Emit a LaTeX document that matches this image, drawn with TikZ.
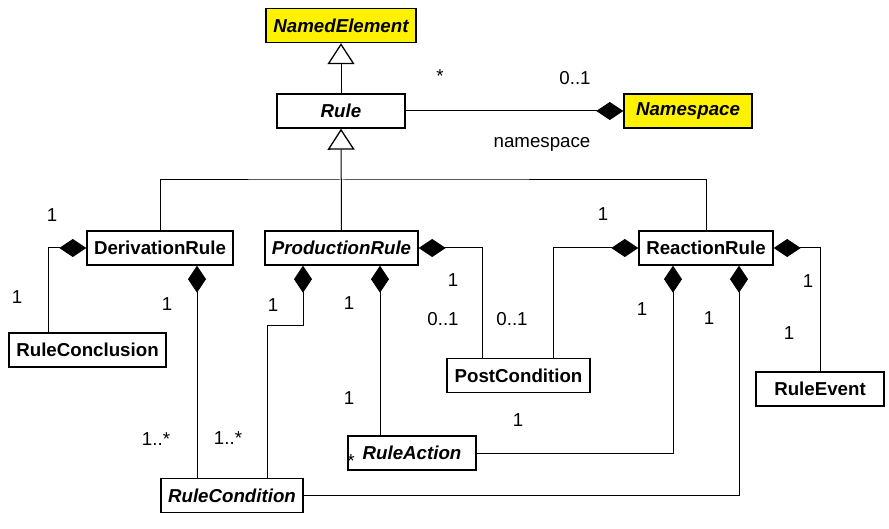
\documentclass[tikz,border=0pt]{standalone}
\usepackage{fontspec}
\setmainfont{Liberation Sans}
\usetikzlibrary{arrows.meta}

\tikzset{
  cls/.style={draw=black, line width=1.4pt, fill=white, inner sep=0pt,
              minimum height=34pt, font=\fontsize{18.7}{22}\selectfont\bfseries},
  abs/.style={cls, font=\fontsize{18.7}{22}\selectfont\bfseries\itshape},
  hilite/.style={fill=yellow},
  lbl/.style={inner sep=0pt, font=\fontsize{18.7}{22}\selectfont},
  link/.style={draw=black, line width=1pt},
  comp/.style={link, {Diamond[length=27pt,width=18pt]}-},
  compend/.style={link, -{Diamond[length=27pt,width=18pt]}},
  gen/.style={link, -{Triangle[open,length=21pt,width=27pt,fill=white,line width=1.3pt]}}
}

\begin{document}
\begin{tikzpicture}[x=1pt, y=-1pt]
\useasboundingbox (0,0) rectangle (889,529);

% classes
\node[abs, hilite, minimum width=150pt] (ne)    at (341,25.5)  {NamedElement};
\node[abs, minimum width=128pt]         (rule)  at (341,111)   {Rule};
\node[abs, hilite, minimum width=128pt] (ns)    at (688,111)   {Namespace};
\node[cls, minimum width=146pt]         (dr)    at (160,248)   {DerivationRule};
\node[abs, minimum width=153pt]         (pr)    at (341.5,248) {ProductionRule};
\node[cls, minimum width=134pt]         (rr)    at (706,248)   {ReactionRule};
\node[cls, minimum width=157pt]         (concl) at (87.5,350)  {RuleConclusion};
\node[cls, minimum width=143pt]         (post)  at (518.5,375.5) {PostCondition};
\node[cls, minimum width=128pt]         (ev)    at (820,389)   {RuleEvent};
\node[abs, minimum width=128pt]         (act)   at (412,453)   {RuleAction};
\node[abs, minimum width=142pt]         (cond)  at (232,495.5) {RuleCondition};

% generalisations
\draw[gen] (rule.north) -- (ne.south);
\draw[gen] (pr.north) -- (rule.south);
\coordinate (fork) at (341,180);
\draw[link] (dr.north) |- (fork) -| (rr.north);

% namespace association
\draw[compend] (rule.east) -- (ns.west);

% DerivationRule parts
\draw[comp] (dr.west) -| ([xshift=40pt]concl.north west);
\coordinate (d1) at ([xshift=37pt]dr.south);
\draw[comp] (d1) -- (d1 |- cond.north);

% ProductionRule parts
\coordinate (p1) at ([xshift=-38.5pt]pr.south);
\draw[comp] (p1) -- ++(0,60) -| ([xshift=35pt]cond.north);
\coordinate (p3) at ([xshift=38.5pt]pr.south);
\draw[comp] (p3) -- (p3 |- act.north);
\draw[comp] (pr.east) -| ([xshift=36pt]post.north west);

% ReactionRule parts
\draw[comp] (rr.west) -| ([xshift=107pt]post.north west);
\coordinate (r1) at ([xshift=-33pt]rr.south);
\coordinate (r2) at ([xshift=33pt]rr.south);
\draw[compend] (act.east) -| (r1);
\draw[compend] (cond.east) -| (r2);
\draw[comp] (rr.east) -| (ev.north);

% multiplicities and role name
\node[lbl] (m1)  at (440,76)  {*};
\node[lbl] (m2)  at (575,78)  {0..1};
\node[lbl] (m3)  at (542,144) {namespace};
\node[lbl] (m4)  at (52,215)  {1};
\node[lbl] (m5)  at (17,297)  {1};
\node[lbl] (m6)  at (167,304) {1};
\node[lbl] (m7)  at (156,439) {1..*};
\node[lbl] (m8)  at (273,305) {1};
\node[lbl] (m9)  at (349,303) {1};
\node[lbl] (m10) at (228,438) {1..*};
\node[lbl] (m11) at (349,398) {1};
\node[lbl] (m12) at (351,461) {*};
\node[lbl] (m13) at (453,280) {1};
\node[lbl] (m14) at (443,319) {0..1};
\node[lbl] (m15) at (512,319) {0..1};
\node[lbl] (m16) at (603,214) {1};
\node[lbl] (m17) at (642,309) {1};
\node[lbl] (m18) at (709,318) {1};
\node[lbl] (m19) at (808,281) {1};
\node[lbl] (m20) at (789,333) {1};
\node[lbl] (m21) at (518,420) {1};
\end{tikzpicture}
\end{document}
